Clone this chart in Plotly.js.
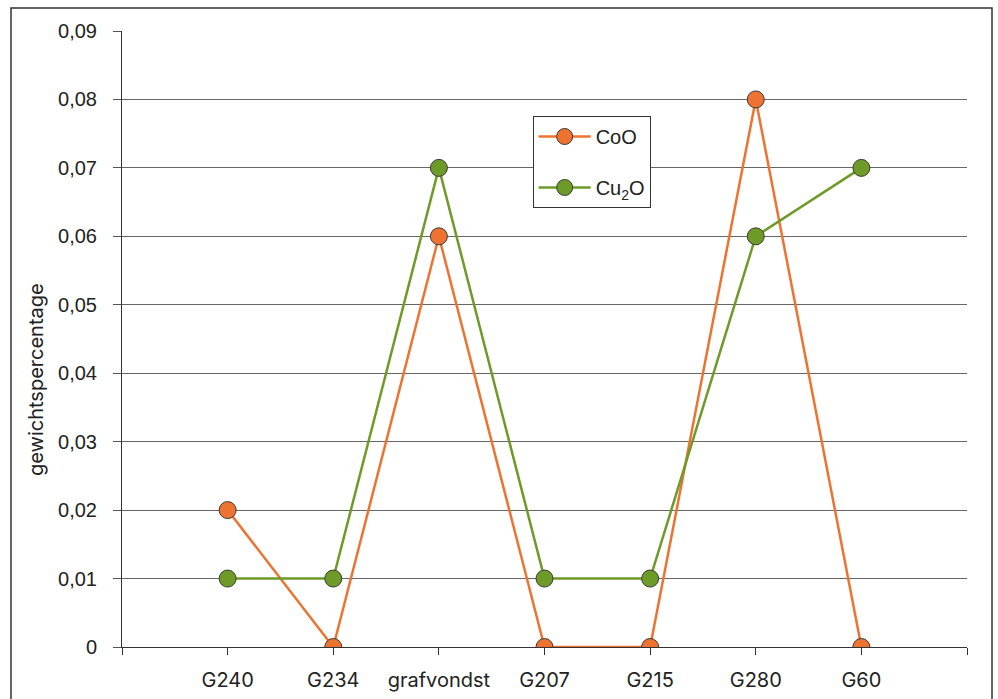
<!DOCTYPE html>
<html><head><meta charset="utf-8">
<script src="https://cdn.plot.ly/plotly-3.0.1.min.js"></script>
<style>html,body{margin:0;padding:0;background:#fff}#c{width:998px;height:699px}</style>
</head><body><div id="c"></div>
<script>
const categories = ['G240','G234','grafvondst','G207','G215','G280','G60'];
const coo = [0.02, 0, 0.06, 0, 0, 0.08, 0];
const cu2o = [0.01, 0.01, 0.07, 0.01, 0.01, 0.06, 0.07];
const yTickVals = [0,0.01,0.02,0.03,0.04,0.05,0.06,0.07,0.08,0.09];
const yTickText = ['0','0,01','0,02','0,03','0,04','0,05','0,06','0,07','0,08','0,09'];
const yTitle = 'gewichtspercentage';

const idx = categories.map((c,i)=>i);
const xTickVals = [-1].concat(idx, [categories.length]);
const xTickText = [' '].concat(categories, [' ']);

const traces = [
 {x: idx, y: coo, name: 'CoO', type:'scatter', mode:'lines+markers', legendgroup:'a',
  line:{color:'#EE7331', width:2.5},
  marker:{color:'#EE7331', size:17, line:{color:'#3a3a3a', width:1}}},
 {x: idx, y: cu2o, name: 'Cu<sub>2</sub>O', type:'scatter', mode:'lines+markers', legendgroup:'b',
  line:{color:'#6E9A28', width:2.5},
  marker:{color:'#6E9A28', size:17, line:{color:'#3a3a3a', width:1}}}
];
const layout = {
 width:998, height:699,
 margin:{l:122, r:31, t:31, b:52},
 paper_bgcolor:'#fff', plot_bgcolor:'#fff',
 showlegend:true,
 legend:{x:0.486, y:0.862, xanchor:'left', yanchor:'top', bordercolor:'#333', borderwidth:1,
   bgcolor:'#fff', font:{family:'Liberation Sans, Arial', size:20, color:'#222'},
   traceorder:'grouped', tracegroupgap:22, itemwidth:52},
 xaxis:{range:[-1, categories.length], tickvals:xTickVals, ticktext:xTickText,
   showgrid:false, zeroline:false, showline:true, linecolor:'#333', linewidth:1,
   ticks:'outside', ticklen:7, tickcolor:'#333', ticklabelstandoff:8,
   tickfont:{family:'Inter, Noto Sans', size:20, color:'#222'}},
 yaxis:{range:[0,0.09], tickvals:yTickVals, ticktext:yTickText,
   showgrid:true, gridcolor:'#666', gridwidth:1, zeroline:false,
   showline:true, linecolor:'#333', linewidth:1,
   ticks:'outside', ticklen:8, tickcolor:'#555', ticklabelstandoff:12,
   tickfont:{family:'Liberation Sans, Arial', size:20, color:'#222'}},
 annotations:[{text:yTitle, xref:'paper', yref:'paper', x:(36-122)/845, y:(647-380)/616,
   xanchor:'center', yanchor:'middle', textangle:-90, showarrow:false,
   font:{family:'Inter, Noto Sans', size:20, color:'#222'}}],
 shapes:[{type:'rect', xref:'paper', yref:'paper', x0:(11-122)/845, x1:(992-122)/845,
   y0:(647-720)/616, y1:(647-8)/616, line:{color:'#333', width:1.5}, fillcolor:'rgba(0,0,0,0)', layer:'below'}]
};
Plotly.newPlot('c', traces, layout, {displayModeBar:false, staticPlot:true});
</script></body></html>
